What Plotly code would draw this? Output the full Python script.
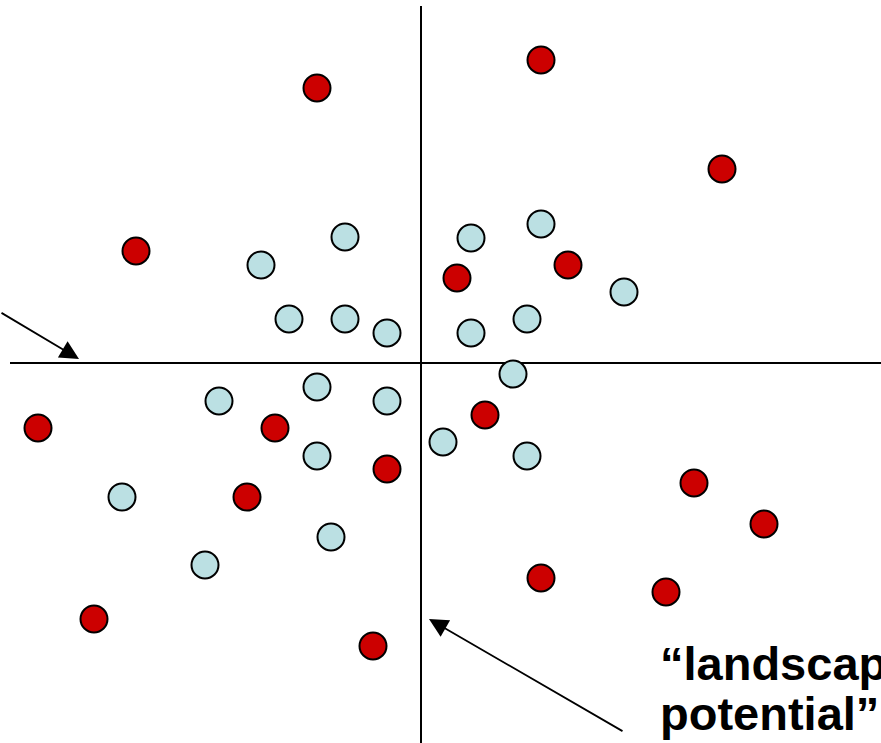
import plotly.graph_objects as go

# Points (origin at the crossing of the two lines)
red_x = [-104, 120, 301, -285, 36, 147, -383, -146, 64, -34, -174, 273, 343, 120, 245, -327, -48]
red_y = [275, 303, 194, 112, 85, 98, -65, -65, -52, -106, -134, -120, -161, -215, -229, -256, -283]

blue_x = [-76, -160, -132, -76, -34, 120, 50, 203, 106, 50, 92, 22, 106, -202, -104, -34, -104, -299, -90, -216]
blue_y = [126, 98, 44, 44, 30, 139, 125, 71, 44, 30, -11, -79, -93, -38, -24, -38, -93, -134, -174, -202]

label_line1 = "“landscape"
label_line2 = "potential”"

fig = go.Figure()

# axis lines
fig.add_shape(type="line", x0=-411, y0=0, x1=460, y1=0, xref="x", yref="y",
              line=dict(color="black", width=2), layer="below")
fig.add_shape(type="line", x0=0, y0=357, x1=0, y1=-380, xref="x", yref="y",
              line=dict(color="black", width=2), layer="below")

fig.add_trace(go.Scatter(x=red_x, y=red_y, mode="markers",
                         marker=dict(size=27, color="#CC0000", line=dict(color="black", width=2)),
                         showlegend=False, hoverinfo="skip"))
fig.add_trace(go.Scatter(x=blue_x, y=blue_y, mode="markers",
                         marker=dict(size=27, color="#BBE0E3", line=dict(color="black", width=2)),
                         showlegend=False, hoverinfo="skip"))

# arrows
fig.add_annotation(x=-342, y=4, ax=-421, ay=51, xref="x", yref="y", axref="x", ayref="y",
                   showarrow=True, arrowhead=2, arrowsize=2.1, arrowwidth=1.8, arrowcolor="black", text="")
fig.add_annotation(x=8, y=-256, ax=203, ay=-369, xref="x", yref="y", axref="x", ayref="y",
                   showarrow=True, arrowhead=2, arrowsize=2.1, arrowwidth=1.8, arrowcolor="black", text="")

font = dict(family="Liberation Sans, Arial, sans-serif", size=47, color="black")
fig.add_annotation(x=237, y=-300, xref="x", yref="y", text="<b>" + label_line1 + "</b>",
                   showarrow=False, xanchor="left", yanchor="middle", font=font)
fig.add_annotation(x=237, y=-350, xref="x", yref="y", text="<b>" + label_line2 + "</b>",
                   showarrow=False, xanchor="left", yanchor="middle", font=font)

fig.update_xaxes(range=[-421, 460], visible=False, showgrid=False, zeroline=False)
fig.update_yaxes(range=[-380, 363], visible=False, showgrid=False, zeroline=False)
fig.update_layout(width=881, height=743, margin=dict(l=0, r=0, t=0, b=0),
                  plot_bgcolor="white", paper_bgcolor="white")

fig.write_html("out.html", config={"displayModeBar": False},
               post_script="document.body.style.margin='0';document.body.style.overflow='hidden';")
